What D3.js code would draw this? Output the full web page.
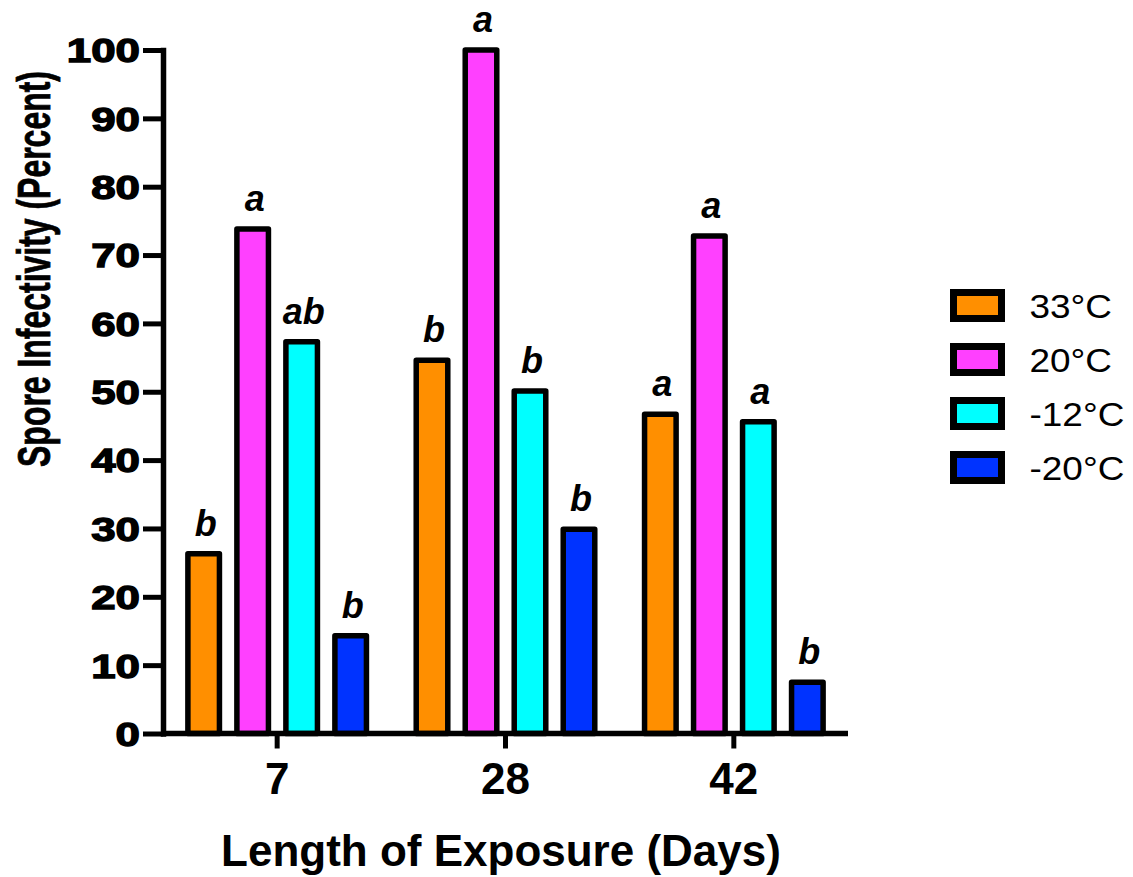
<!DOCTYPE html>
<html>
<head>
<meta charset="utf-8">
<script src="https://cdn.jsdelivr.net/npm/d3@7"></script>
<style>
  html, body { margin: 0; padding: 0; background: #fff; }
  svg { display: block; }
  text { font-family: "Liberation Sans", Arial, Helvetica, sans-serif; fill: #000; }
</style>
</head>
<body>
<svg id="chart" width="1133" height="877"></svg>
<script>
// Exposure lengths (days) and storage temperatures
const days = ["7", "28", "42"];
const temps = ["33°C", "20°C", "-12°C", "-20°C"];
const colors = ["#FF8F00", "#FF40FF", "#00FFFF", "#0033FF"];

// Spore infectivity (%) per temperature, one value per exposure length
const t33 = [26.3, 54.6, 46.7];
const t20 = [73.8, 100, 72.8];
const tm12 = [57.3, 50.1, 45.6];
const tm20 = [14.3, 29.9, 7.5];

// Significance letters, same layout as the values
const l33 = ["b", "b", "a"];
const l20 = ["a", "a", "a"];
const lm12 = ["ab", "b", "a"];
const lm20 = ["b", "b", "b"];

const yTicks = [0, 10, 20, 30, 40, 50, 60, 70, 80, 90, 100];

const series = [t33, t20, tm12, tm20];
const letters = [l33, l20, lm12, lm20];

const rows = [];
days.forEach((d, i) => {
  temps.forEach((t, j) => {
    rows.push({ day: d, temp: t, value: series[j][i], letter: letters[j][i], color: colors[j] });
  });
});

const svg = d3.select("#chart");
const plot = { left: 163, right: 848, top: 50, bottom: 733.5 };

const x = d3.scaleBand().domain(days).range([plot.left, plot.right]).paddingInner(0).paddingOuter(0);
const xSub = d3.scaleBand().domain(temps).range([-98, 98]).paddingInner(0.356).paddingOuter(0.178);
const y = d3.scaleLinear().domain([0, 100]).range([plot.bottom, plot.top]);

const barStroke = 5.5;

// Bars
const g = svg.append("g");
g.selectAll("rect.bar")
  .data(rows)
  .join("rect")
  .attr("class", "bar")
  .attr("x", d => x(d.day) + x.bandwidth() / 2 + xSub(d.temp))
  .attr("width", xSub.bandwidth())
  .attr("y", d => y(d.value))
  .attr("height", d => y(0) - y(d.value))
  .attr("fill", d => d.color)
  .attr("stroke", "#000")
  .attr("stroke-width", barStroke)
  .attr("stroke-linejoin", "round");

// Significance letters above bars
g.selectAll("text.sig")
  .data(rows)
  .join("text")
  .attr("class", "sig")
  .attr("x", d => x(d.day) + x.bandwidth() / 2 + xSub(d.temp) + xSub.bandwidth() / 2 + 2)
  .attr("y", d => y(d.value) - 18)
  .attr("text-anchor", "middle")
  .attr("font-size", 36)
  .attr("font-weight", "bold")
  .attr("font-style", "italic")
  .text(d => d.letter);

// Y axis
const yAxis = svg.append("g")
  .attr("transform", `translate(${plot.left},0)`)
  .call(d3.axisLeft(y).tickValues(yTicks).tickSize(20).tickSizeOuter(0).tickPadding(4));
yAxis.select(".domain").attr("stroke-width", 5.5).attr("stroke-linecap", "square");
yAxis.selectAll(".tick line").attr("stroke-width", 5);
const ySx = 1.33;
yAxis.selectAll(".tick text")
  .attr("font-size", 33)
  .attr("font-weight", "bold")
  .attr("font-family", "'Liberation Sans', Arial, sans-serif")
  .attr("stroke", "#000")
  .attr("stroke-width", 1.3)
  .attr("dy", "0.36em")
  .attr("x", -23 / ySx)
  .attr("transform", `scale(${ySx},1)`);

// X axis
const xAxis = svg.append("g")
  .attr("transform", `translate(0,${plot.bottom})`)
  .call(d3.axisBottom(x).tickSize(15).tickSizeOuter(0).tickPadding(14));
xAxis.select(".domain").attr("stroke-width", 5.5).attr("d", `M${plot.left},0H${plot.right}`);
xAxis.selectAll(".tick line").attr("stroke-width", 5);
xAxis.selectAll(".tick text")
  .attr("font-size", 44)
  .attr("font-weight", "bold")
  .attr("font-family", "'Liberation Sans', Arial, sans-serif")
  .attr("dy", "0.71em");

// Axis titles
svg.append("text")
  .attr("x", 501)
  .attr("y", 866)
  .attr("text-anchor", "middle")
  .attr("font-size", 44)
  .attr("font-weight", "bold")
  .text("Length of Exposure (Days)");

svg.append("text")
  .attr("transform", "translate(50,269) rotate(-90) scale(0.68,1)")
  .attr("text-anchor", "middle")
  .attr("font-size", 47)
  .attr("font-weight", "bold")
  .attr("stroke", "#000")
  .attr("stroke-width", 0.8)
  .text("Spore Infectivity (Percent)");

// Legend
const legend = svg.append("g").attr("transform", "translate(953.5,292.5)");
const item = legend.selectAll("g.item")
  .data(temps)
  .join("g")
  .attr("class", "item")
  .attr("transform", (d, i) => `translate(0,${i * 54})`);
item.append("rect")
  .attr("width", 48)
  .attr("height", 26)
  .attr("fill", (d, i) => colors[i])
  .attr("stroke", "#000")
  .attr("stroke-width", 7);
item.append("text")
  .attr("transform", "translate(76,25) scale(1.12,1)")
  .attr("font-size", 33)
  .text(d => d);
</script>
</body>
</html>
